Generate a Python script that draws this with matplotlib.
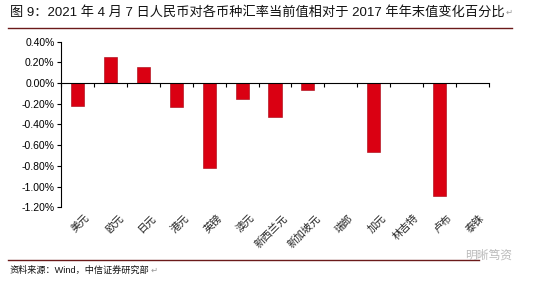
import matplotlib
matplotlib.use("Agg")
import matplotlib.pyplot as plt
import matplotlib.transforms as mtransforms
import numpy as np

plt.rcParams['font.family'] = ['Liberation Sans', 'Noto Sans CJK SC', 'DejaVu Sans']

currencies = ['美元', '欧元', '日元', '港元', '英镑', '澳元', '新西兰元',
              '新加坡元', '瑞郎', '加元', '林吉特', '卢布', '泰铢']
change_pct = [-0.225, 0.254, 0.158, -0.235, -0.825, -0.155, -0.332,
              -0.071, 0.0, -0.67, 0.0, -1.089, 0.0]
yticks = [0.4, 0.2, 0.0, -0.2, -0.4, -0.6, -0.8, -1.0, -1.2]

title = '图 9：2021 年 4 月 7 日人民币对各币种汇率当前值相对于 2017 年年末值变化百分比'
source = '资料来源：Wind，中信证券研究部'

fig = plt.figure(figsize=(5.44, 2.87), dpi=100)
ax = fig.add_axes([0.113, 0.278, 0.785, 0.577])

x = np.arange(len(currencies))
ax.bar(x, change_pct, width=0.4, color='#DA0012', edgecolor='#A5000E', linewidth=0.4)

ax.set_xlim(-0.5, len(currencies) - 0.5)
ax.set_ylim(-1.2, 0.4)
ax.set_yticks(yticks)
ax.set_yticklabels([f'{v:.2f}%' for v in yticks], fontsize=7.5)
ax.tick_params(axis='y', direction='out', length=3, width=0.8, pad=2)

for s in ['top', 'right']:
    ax.spines[s].set_visible(False)
ax.spines['left'].set_linewidth(0.8)
ax.spines['bottom'].set_position(('data', 0))
ax.spines['bottom'].set_linewidth(0.8)
# ticks sit between categories, names go below the plot area
ax.set_xticks(np.arange(len(currencies) + 1) - 0.5)
ax.set_xticklabels([])
ax.tick_params(axis='x', direction='out', length=3, width=0.8)

trans = mtransforms.blended_transform_factory(ax.transData, ax.transAxes)
for i, name in enumerate(currencies):
    ax.text(i + 0.22, -0.035, name, transform=trans, rotation=45,
            ha='right', va='top', rotation_mode='anchor', fontsize=7.5,
            color='#222222')

# title and source with the Word paragraph marks
t = fig.text(0.018, 0.958, title, fontsize=9.5, va='center', ha='left', color='#111111')
ax.annotate('↵', xy=(1, 0.5), xycoords=t, xytext=(1, 0), textcoords='offset points',
            fontsize=6, va='center', ha='left', color='#999999', family=['DejaVu Sans'],
            annotation_clip=False)
fig.add_artist(plt.Line2D([0.015, 0.942], [0.903, 0.903], color='#6B1A1A', linewidth=1.0))
fig.add_artist(plt.Line2D([0.015, 0.88], [0.094, 0.094], color='#6B1A1A', linewidth=1.0))
s = fig.text(0.018, 0.057, source, fontsize=6.6, va='center', ha='left', color='#111111')
ax.annotate('↵', xy=(1, 0.5), xycoords=s, xytext=(1, 0), textcoords='offset points',
            fontsize=6, va='center', ha='left', color='#999999', family=['DejaVu Sans'],
            annotation_clip=False)
fig.text(0.855, 0.11, '明晰笃资', fontsize=8.5, va='center', ha='left', color='#BBBBBB')

fig.savefig('out.png', dpi=100)
